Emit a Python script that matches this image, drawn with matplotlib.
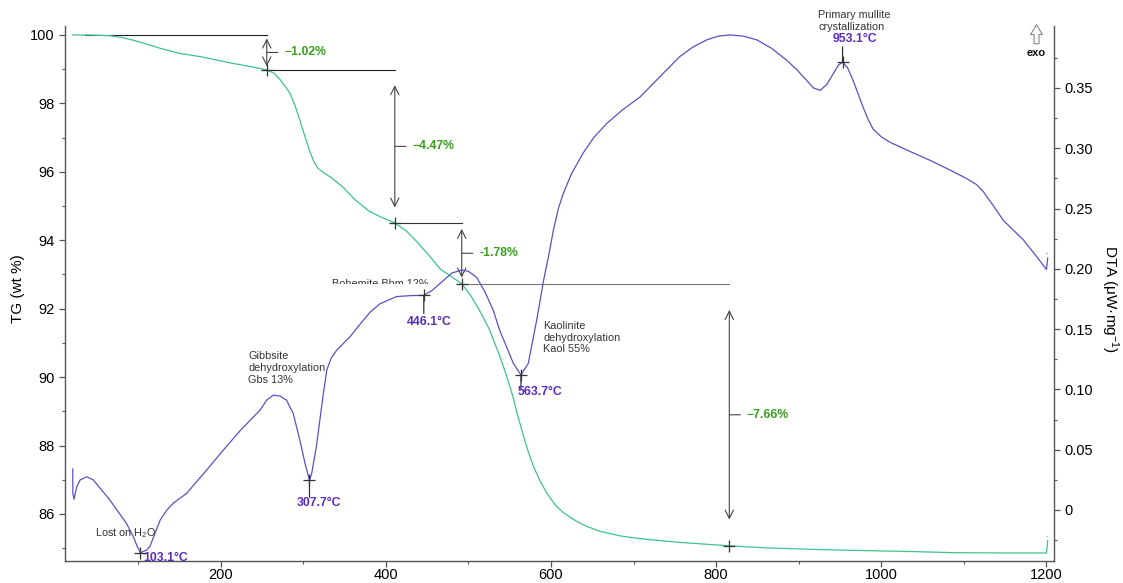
import matplotlib
matplotlib.use("Agg")
import matplotlib.pyplot as plt
from matplotlib.patches import FancyArrowPatch
from matplotlib.transforms import Bbox, TransformedBbox

plt.rcParams["font.family"] = ["Liberation Sans", "DejaVu Sans"]
plt.rcParams["mathtext.fontset"] = "custom"
plt.rcParams["mathtext.rm"] = "Liberation Sans"
plt.rcParams["mathtext.it"] = "Liberation Sans:italic"
plt.rcParams["mathtext.bf"] = "Liberation Sans:bold"

# ---------------- data ----------------
tg_temp = [21, 40, 66, 80, 94, 110, 127, 151, 175, 195, 215, 240, 256, 265, 272,
           278, 284, 290, 296, 302, 308, 313, 318, 325, 333, 348, 363, 380, 395,
           411, 425, 438, 452, 466, 480, 492, 503, 514, 525, 538, 546, 554, 560,
           567, 573, 579, 587, 595, 605, 615, 630, 643, 660, 684, 704, 724, 756,
           786, 816, 860, 910, 960, 1000, 1040, 1087, 1150, 1200, 1201.5]
tg_mass = [100.00, 100.00, 99.98, 99.93, 99.85, 99.74, 99.61, 99.46, 99.37, 99.27,
           99.17, 99.06, 98.98, 98.88, 98.70, 98.50, 98.30, 97.95, 97.51, 97.05,
           96.60, 96.30, 96.10, 95.97, 95.85, 95.56, 95.18, 94.85, 94.67, 94.51,
           94.27, 93.95, 93.57, 93.16, 92.93, 92.73, 92.38, 91.93, 91.42, 90.62,
           90.06, 89.43, 88.86, 88.26, 87.79, 87.38, 86.96, 86.61, 86.27, 86.04,
           85.80, 85.64, 85.49, 85.36, 85.29, 85.24, 85.17, 85.12, 85.07, 85.01,
           84.97, 84.94, 84.92, 84.90, 84.87, 84.86, 84.86, 85.22]

dta_temp = [21.1, 21.2, 22.6, 25.9, 30, 38, 46, 56, 66, 76, 86, 94.4, 99, 103.1,
            110.6, 114.6, 120.7, 127, 135, 143, 159, 171, 183, 203.4, 224, 248,
            256, 264, 272, 280, 288, 296, 302.3, 307.7, 310.4, 316, 324, 328.6,
            334, 340.7, 356.8, 370, 381, 393, 413, 430, 446.1, 456, 466, 480, 492,
            500, 510, 520, 530, 538, 546.5, 554.5, 563.7, 572.6, 582.8, 591, 597,
            603, 609, 615, 625, 639, 652, 667.6, 687, 708, 730, 756, 772, 789, 803,
            817, 833, 849, 867, 885.5, 898, 910, 918, 926, 934, 942, 948, 953.1,
            959, 966, 972, 978, 984, 990, 1000, 1010.5, 1031, 1059, 1083, 1103,
            1115, 1123.5, 1135, 1148, 1160, 1172, 1186, 1200, 1201.5]
dta_signal = [0.034, 0.014, 0.0089, 0.0193, 0.0249, 0.0276, 0.0249, 0.0166, 0.0083,
              -0.0014, -0.011, -0.0221, -0.030, -0.0354, -0.0332, -0.030, -0.0193,
              -0.0083, 0.0, 0.0058, 0.0138, 0.0235, 0.033, 0.0497, 0.066, 0.083,
              0.0912, 0.0953, 0.0945, 0.091, 0.080, 0.058, 0.0387, 0.0245, 0.0304,
              0.0525, 0.094, 0.116, 0.126, 0.1326, 0.1437, 0.155, 0.164, 0.171,
              0.177, 0.1778, 0.178, 0.182, 0.188, 0.1965, 0.199, 0.198, 0.193,
              0.181, 0.166, 0.149, 0.135, 0.1216, 0.112, 0.1216, 0.1575, 0.190,
              0.210, 0.232, 0.250, 0.2625, 0.279, 0.296, 0.309, 0.3206, 0.332,
              0.3426, 0.358, 0.376, 0.384, 0.390, 0.393, 0.394, 0.393, 0.390, 0.383,
              0.373, 0.365, 0.356, 0.350, 0.348, 0.353, 0.362, 0.369, 0.3714, 0.367,
              0.356, 0.345, 0.334, 0.324, 0.316, 0.3095, 0.305, 0.2985, 0.290,
              0.282, 0.275, 0.270, 0.264, 0.253, 0.240, 0.232, 0.224, 0.212, 0.1995,
              0.209]

# mass-loss steps (end temperature of each step and its loss in %)
step_temp = [256, 411, 492, 816]
step_loss = [1.02, 4.47, 1.78, 7.66]
step_text = ["\u22121.02%", "\u22124.47%", "-1.78%", "\u22127.66%"]
start_mass = 100.0

# DTA peak temperatures and signal
peak_temp = [103.1, 307.7, 446.1, 563.7, 953.1]
peak_signal = [-0.0354, 0.0245, 0.178, 0.112, 0.3714]

tg_ticks = [86, 88, 90, 92, 94, 96, 98, 100]
dta_ticks = [0, 0.05, 0.10, 0.15, 0.20, 0.25, 0.30, 0.35]
dta_ticklabels = ["0", "0.05", "0.10", "0.15", "0.20", "0.25", "0.30", "0.35"]
temp_ticks = [200, 400, 600, 800, 1000, 1200]

# ---------------- styling ----------------
TG_COLOR = "#3cc48c"
DTA_COLOR = "#5a50c8"
PEAK_COLOR = "#5a2cbc"
LOSS_COLOR = "#3a9e1e"
ANN_COLOR = "#333333"
SPINE_COLOR = "#555555"

W, H = 1123, 583
fig = plt.figure(figsize=(W / 100, H / 100), dpi=100)
ax = fig.add_axes([65 / W, 1 - 561 / H, (1054 - 65) / W, (561 - 26) / H])
ax2 = ax.twinx()

ax.set_xlim(11.7, 1209.1)
ax.set_ylim(84.626, 100.263)
ax2.set_ylim(-0.0423, 0.4014)

for a in (ax, ax2):
    a.spines["top"].set_visible(False)
    for s in a.spines.values():
        s.set_color(SPINE_COLOR)
        s.set_linewidth(1.0)
ax.spines["right"].set_visible(False)
ax2.spines["left"].set_visible(False)
ax2.spines["bottom"].set_visible(False)

ax.set_xticks(temp_ticks)
ax.set_xticks(list(range(100, 1201, 200)), minor=True)
ax.set_yticks(tg_ticks)
ax.set_yticks(list(range(85, 100, 2)), minor=True)
ax2.set_yticks(dta_ticks)
ax2.set_yticklabels(dta_ticklabels)
ax2.set_yticks([-0.025, 0.025, 0.075, 0.125, 0.175, 0.225, 0.275, 0.325, 0.375],
               minor=True)

for a in (ax, ax2):
    a.tick_params(which="major", direction="out", length=4, width=0.9,
                  color=SPINE_COLOR, labelsize=10.5, pad=3.5)
    a.tick_params(which="minor", direction="out", length=2.5, width=0.8,
                  color=SPINE_COLOR)
ax.tick_params(axis="x", pad=1.2)

fig.text(18 / W, 1 - 289 / H, "TG (wt %)", rotation=90, ha="center",
         va="center", fontsize=11)
fig.text(1110 / W, 1 - 299 / H, "DTA (\u03bcW\u00b7mg$^{-1}$)", rotation=270,
         ha="center", va="center", fontsize=11)

# ---------------- curves ----------------
ax.plot(tg_temp, tg_mass, color=TG_COLOR, lw=0.9, zorder=3)
ax2.plot(dta_temp, dta_signal, color=DTA_COLOR, lw=0.9, zorder=3)

# ---------------- TG step annotations ----------------
levels = [start_mass]
for loss in step_loss:
    levels.append(round(levels[-1] - loss, 2))

line_colors = ["#222222", "#222222", "#333333", "#777777"]
line_start = [36] + [t - 6 for t in step_temp[:-1]]
for i in range(len(step_temp)):
    ax.plot([line_start[i], step_temp[i]], [levels[i], levels[i]],
            color=line_colors[i], lw=0.8, zorder=2)

for i, t in enumerate(step_temp):
    hi, lo = levels[i], levels[i + 1]
    inset = 0.1 * (hi - lo)
    ax.annotate("", xy=(t, hi - inset), xytext=(t, lo + inset),
                arrowprops=dict(arrowstyle="<->,head_length=0.6,head_width=0.3",
                                color="#444444", lw=0.8, shrinkA=0, shrinkB=0))
    mid = (hi + lo) / 2
    ax.annotate("", xy=(t, mid), xytext=(8, 0), textcoords="offset points",
                arrowprops=dict(arrowstyle="-", color="#444444", lw=0.8,
                                shrinkA=0, shrinkB=0))
    ax.annotate(step_text[i], xy=(t, mid), xytext=(12.5, 0),
                textcoords="offset points", ha="left", va="center",
                fontsize=8.8, fontweight="bold", color=LOSS_COLOR)

ax.plot(step_temp, levels[1:], "+", ms=8.5, mew=0.9, color="#333333", zorder=4)

# ---------------- DTA peak annotations ----------------
lead = [0, -12, -13, -10, 11]
label_off = [(2, -4), (-9, -16), (-12, -19.5), (-2.5, -12), (-7.5, 16.5)]
ax2.plot(peak_temp, peak_signal, "+", ms=8.5, mew=0.9, color="#333333", zorder=4)
for t, d, ld, off in zip(peak_temp, peak_signal, lead, label_off):
    if ld:
        ax2.annotate("", xy=(t, d), xytext=(0, ld), textcoords="offset points",
                     arrowprops=dict(arrowstyle="-", color="#333333", lw=0.9,
                                     shrinkA=0, shrinkB=0))
    ax2.annotate(f"{t:.1f}\u00b0C", xy=(t, d), xytext=off,
                 textcoords="offset points", ha="left", va="center",
                 fontsize=8.8, fontweight="bold", color=PEAK_COLOR)

# ---------------- process labels ----------------
txt_kw = dict(fontsize=7.8, color=ANN_COLOR, ha="left", linespacing=1.2)
ax2.text(48, -0.0191, "Lost on H$_2$O", va="center", **txt_kw)
ax2.text(233.7, 0.1315, "Gibbsite\ndehydroxylation\nGbs 13%", va="top", **txt_kw)
ax2.text(591, 0.1565, "Kaolinite\ndehydroxylation\nKaol 55%", va="top", **txt_kw)
ax2.text(923.7, 0.4145, "Primary mullite\ncrystallization", va="top",
         clip_on=False, **txt_kw)

# Boehmite label, partly hidden below the step line
bhm = ax.annotate("Bohemite Bhm 12%", xy=(334.7, levels[3]), xytext=(0, -2.2),
                  textcoords="offset points", ha="left", va="baseline",
                  fontsize=7.8, color=ANN_COLOR)
bhm.set_clip_box(TransformedBbox(Bbox([[300, levels[3]], [460, 100]]),
                                 ax.transData))
bhm.set_clip_on(True)

# curve end ticks
ax.text(tg_temp[-1], tg_mass[-1], "'''", fontsize=4, color=TG_COLOR,
        ha="center", va="bottom")
ax2.text(dta_temp[-1], dta_signal[-1], "'''", fontsize=4, color=DTA_COLOR,
         ha="center", va="bottom")

# exo direction marker
exo = FancyArrowPatch((1036.5 / W, 1 - 46.5 / H), (1036.5 / W, 1 - 22 / H),
                      transform=fig.transFigure,
                      arrowstyle="simple,head_width=8.5,head_length=7,tail_width=3.6",
                      mutation_scale=1, fc="white", ec="#888888", lw=0.8)
fig.patches.append(exo)
fig.text(1036.5 / W, 1 - 53 / H, "exo", ha="center", va="center",
         fontsize=8, fontweight="bold", color="#111111")

fig.savefig("out.png", dpi=100, facecolor="white")
